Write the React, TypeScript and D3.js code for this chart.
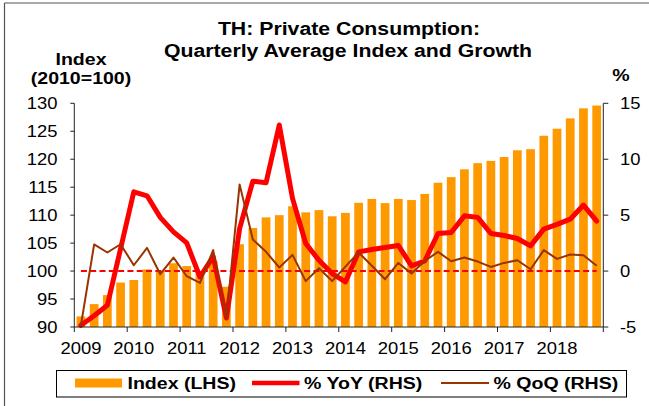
import React from "react";
import * as d3 from "d3";

// quarters 2009Q1 .. 2018Q4
const years = ["2009", "2010", "2011", "2012", "2013", "2014", "2015", "2016", "2017", "2018"];
const quarters = years.flatMap((y) => ["Q1", "Q2", "Q3", "Q4"].map((q) => `${y}${q}`));

// Index (LHS), 2010=100
const indexValues = [
  91.9, 94.1, 95.7, 97.95, 98.4, 100.3, 100.0, 101.4, 100.9, 99.9,
  101.8, 97.2, 104.8, 107.7, 109.6, 110.0, 111.6, 110.5, 110.9, 109.8,
  110.4, 112.2, 112.9, 112.15, 112.9, 112.7, 113.8, 115.8, 116.8, 118.2,
  119.3, 119.7, 120.4, 121.6, 121.8, 124.2, 125.45, 127.3, 129.1, 129.6,
];

// % YoY (RHS)
const yoyValues = [
  -4.85, -4.0, -3.06, 2.0, 7.09, 6.73, 4.8, 3.5, 2.52, -0.53,
  1.3, -4.2, 3.8, 8.04, 7.9, 13.06, 6.5, 2.47, 0.97, -0.22,
  -0.97, 1.72, 1.93, 2.1, 2.29, 0.46, 0.9, 3.36, 3.45, 4.94,
  4.8, 3.36, 3.18, 2.91, 2.25, 3.75, 4.17, 4.64, 5.9, 4.46,
];

// % QoQ (RHS)
const qoqValues = [
  -4.85, 2.38, 1.66, 2.4, 0.52, 2.07, -0.28, 1.21, -0.46, -1.06,
  1.87, -4.25, 7.75, 2.82, 1.72, 0.32, 1.45, -0.9, 0.26, -0.9,
  0.4, 1.66, 0.47, -0.73, 0.73, -0.22, 0.9, 1.72, 0.88, 1.21,
  0.85, 0.37, 0.73, 0.97, 0.16, 1.87, 1.09, 1.48, 1.42, 0.47,
];

const leftTicks = [90, 95, 100, 105, 110, 115, 120, 125, 130];
const rightTicks = [-5, 0, 5, 10, 15];

const W = 649;
const H = 406;
const plot = { left: 74.3, right: 603.3, top: 103.3, bottom: 327 };
const FONT = '"Liberation Sans", Arial, Helvetica, sans-serif';
// the source text renders noticeably wider than plain Arial
const STRETCH = 1.15;

const ORANGE = "#FF9900";
const RED = "#FF0000";
const BROWN = "#993300";

type TextProps = {
  x: number;
  y: number;
  size: number;
  anchor?: "start" | "middle" | "end";
  bold?: boolean;
  children: React.ReactNode;
};

function WideText({ x, y, size, anchor = "start", bold = false, children }: TextProps) {
  return (
    <text
      transform={`translate(${x},${y}) scale(${STRETCH},1)`}
      textAnchor={anchor}
      fontSize={size}
      fontWeight={bold ? "bold" : "normal"}
      fontFamily={FONT}
      fill="#000"
    >
      {children}
    </text>
  );
}

export default function App() {
  const x = d3
    .scaleBand<string>()
    .domain(quarters)
    .range([plot.left, plot.right])
    .paddingInner(0.34)
    .paddingOuter(0.17);
  const yL = d3.scaleLinear().domain([90, 130]).range([plot.bottom, plot.top]);
  const yR = d3.scaleLinear().domain([-5, 15]).range([plot.bottom, plot.top]);
  const cx = (i: number) => (x(quarters[i]) ?? 0) + x.bandwidth() / 2;

  const lineR = d3
    .line<number>()
    .x((_, i) => cx(i))
    .y((d) => yR(d));

  const yearTicks = d3.range(0, quarters.length + 1, 4).map((i) => plot.left + i * x.step());

  return (
    <svg
      width={W}
      height={H}
      style={{ position: "absolute", left: 0, top: 0, background: "#fff" }}
    >
      {/* frame */}
      <line x1={4.5} y1={3} x2={4.5} y2={H} stroke="#555" strokeWidth={1.2} />
      <line x1={4.5} y1={3} x2={W} y2={3} stroke="#555" strokeWidth={1.2} />

      {/* titles */}
      <WideText x={349} y={35} size={18.5} anchor="middle" bold>
        TH: Private Consumption:
      </WideText>
      <WideText x={348} y={57} size={18.5} anchor="middle" bold>
        Quarterly Average Index and Growth
      </WideText>
      <WideText x={81} y={65} size={17} anchor="middle" bold>
        Index
      </WideText>
      <WideText x={81} y={84} size={17} anchor="middle" bold>
        (2010=100)
      </WideText>
      <WideText x={621} y={81} size={17} anchor="middle" bold>
        %
      </WideText>

      {/* bars */}
      {indexValues.map((v, i) => (
        <rect
          key={quarters[i]}
          x={x(quarters[i])}
          y={yL(v)}
          width={x.bandwidth()}
          height={plot.bottom - yL(v)}
          fill={ORANGE}
        />
      ))}

      {/* zero reference */}
      <line
        x1={cx(0)}
        x2={cx(quarters.length - 1)}
        y1={yR(0)}
        y2={yR(0)}
        stroke={RED}
        strokeWidth={2}
        strokeDasharray="6,3.3"
      />

      <path
        d={lineR(yoyValues) ?? ""}
        fill="none"
        stroke={RED}
        strokeWidth={5}
        strokeLinejoin="round"
        strokeLinecap="round"
      />
      <path
        d={lineR(qoqValues) ?? ""}
        fill="none"
        stroke={BROWN}
        strokeWidth={2}
        strokeLinejoin="round"
      />

      {/* left axis */}
      <line x1={plot.left} x2={plot.left} y1={plot.top} y2={plot.bottom} stroke="#222" />
      {leftTicks.map((t) => (
        <g key={t}>
          <line x1={plot.left - 4} x2={plot.left} y1={yL(t)} y2={yL(t)} stroke="#222" />
          <WideText x={57.5} y={yL(t) + 5.5} size={16} anchor="end">
            {t}
          </WideText>
        </g>
      ))}

      {/* right axis */}
      <line x1={plot.right} x2={plot.right} y1={plot.top} y2={plot.bottom} stroke="#222" />
      {rightTicks.map((t) => (
        <g key={t}>
          <line x1={plot.right} x2={plot.right + 5} y1={yR(t)} y2={yR(t)} stroke="#222" />
          <WideText x={620} y={yR(t) + 5.5} size={16}>
            {t}
          </WideText>
        </g>
      ))}

      {/* bottom axis */}
      <line x1={plot.left} x2={plot.right} y1={plot.bottom} y2={plot.bottom} stroke="#222" />
      {yearTicks.map((tx, k) => (
        <line key={k} x1={tx} x2={tx} y1={plot.bottom} y2={plot.bottom + 5} stroke="#222" />
      ))}
      {years.map((y, k) => (
        <WideText key={y} x={cx(k * 4)} y={353.5} size={16} anchor="middle">
          {y}
        </WideText>
      ))}

      {/* legend */}
      <rect x={56.5} y={370.5} width={570} height={26.5} fill="#fff" stroke="#000" />
      <rect x={75} y={378.5} width={47} height={9} fill={ORANGE} />
      <WideText x={127.5} y={389} size={17} bold>
        Index (LHS)
      </WideText>
      <line x1={252} x2={299.5} y1={383} y2={383} stroke={RED} strokeWidth={4.5} />
      <WideText x={304} y={389} size={17} bold>
        % YoY (RHS)
      </WideText>
      <line x1={441} x2={489} y1={383} y2={383} stroke={BROWN} strokeWidth={2} />
      <WideText x={493.5} y={389} size={17} bold>
        % QoQ (RHS)
      </WideText>
    </svg>
  );
}
